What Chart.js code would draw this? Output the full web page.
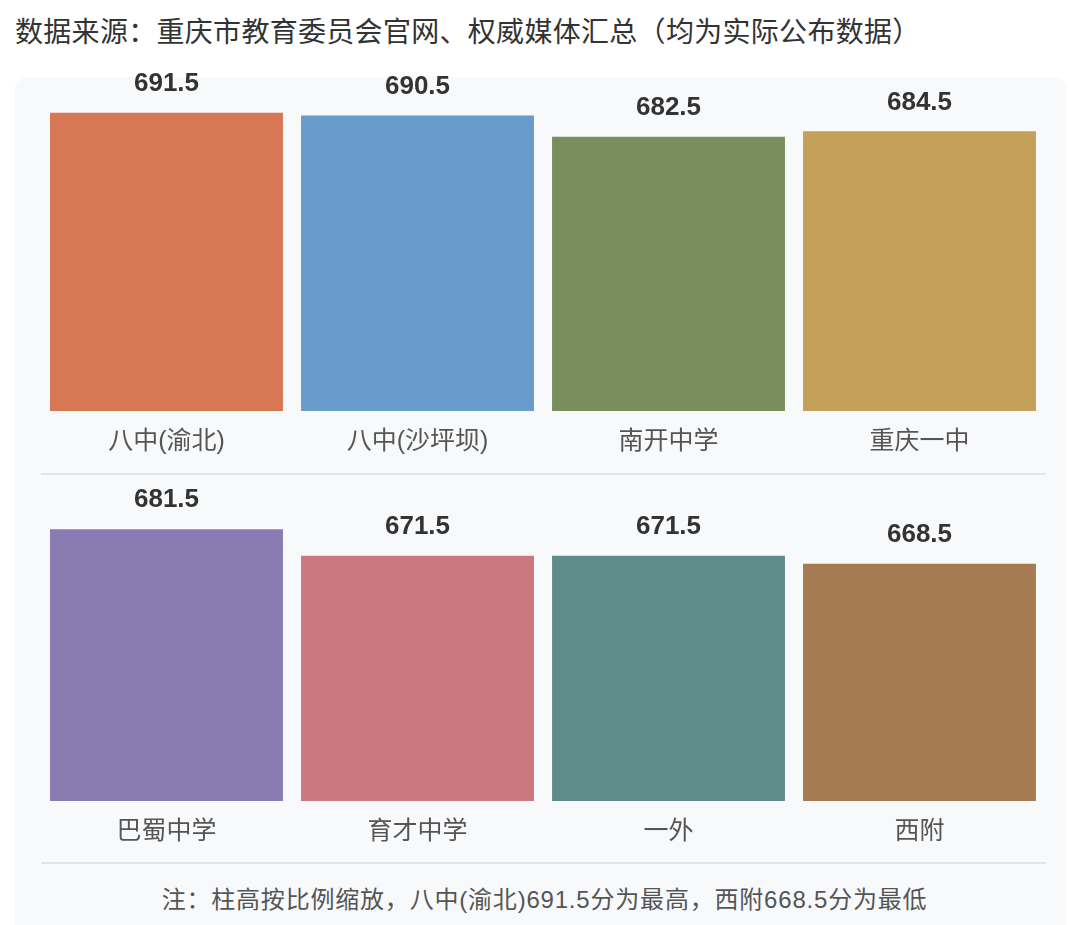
<!DOCTYPE html>
<html>
<head>
<meta charset="utf-8">
<script src="https://cdn.jsdelivr.net/npm/chart.js@4"></script>
<style>
  body { margin: 0; background: #fff; width: 1080px; height: 925px; position: relative; overflow: hidden;
         font-family: "Liberation Sans", "Noto Sans CJK SC", sans-serif; }
  .title { position: absolute; left: 15px; top: 14px; font-size: 28px; letter-spacing: 0.3px; color: #333; white-space: nowrap; line-height: 38px; }
  .panel { position: absolute; left: 15px; top: 77px; width: 1051px; height: 870px; background: #f8f9fb; border-radius: 12px; }
  canvas { position: absolute; left: 41px; }
  #row1 { top: 50px; }
  #row2 { top: 440px; }
  .sep { position: absolute; left: 41px; width: 1005px; height: 2px; background: #e1e4e8; }
  .note { position: absolute; left: 19px; width: 1051px; top: 884px; text-align: center; font-size: 24px; letter-spacing: 0.8px; color: #555; line-height: 32px; }
</style>
</head>
<body>
<div class="title">数据来源：重庆市教育委员会官网、权威媒体汇总（均为实际公布数据）</div>
<div class="panel"></div>
<canvas id="row1" width="1004" height="423"></canvas>
<canvas id="row2" width="1004" height="423"></canvas>
<div class="sep" style="top:473px"></div>
<div class="sep" style="top:862px"></div>
<div class="note">注：柱高按比例缩放，八中(渝北)691.5分为最高，西附668.5分为最低</div>
<script>
const schools1 = ["八中(渝北)", "八中(沙坪坝)", "南开中学", "重庆一中"];
const scores1 = [691.5, 690.5, 682.5, 684.5];
const schools2 = ["巴蜀中学", "育才中学", "一外", "西附"];
const scores2 = [681.5, 671.5, 671.5, 668.5];

const colors1 = ["#d87753", "#699bcb", "#798e5d", "#c4a05a"];
const colors2 = ["#8a7bb3", "#ca7981", "#5f8c8b", "#a67b51"];

// 数值标签画在柱子上方
const valueLabels = {
  id: "valueLabels",
  afterDatasetsDraw(chart) {
    const ctx = chart.ctx;
    const meta = chart.getDatasetMeta(0);
    ctx.save();
    ctx.font = "bold 26px 'Liberation Sans', sans-serif";
    ctx.fillStyle = "#333";
    ctx.textAlign = "center";
    ctx.textBaseline = "middle";
    meta.data.forEach((bar, i) => {
      ctx.fillText(chart.data.datasets[0].data[i].toFixed(1), bar.x, bar.y - 29);
    });
    ctx.restore();
  },
};

function makeChart(id, labels, values, colors) {
  return new Chart(document.getElementById(id), {
    type: "bar",
    data: {
      labels: labels,
      datasets: [
        {
          data: values,
          backgroundColor: colors,
          borderWidth: 0,
          barPercentage: 0.928,
          categoryPercentage: 1,
        },
      ],
    },
    options: {
      responsive: false,
      animation: false,
      layout: { padding: { top: 27, left: 0, right: 0, bottom: 0 } },
      plugins: {
        legend: { display: false },
        tooltip: { enabled: false },
      },
      scales: {
        y: { display: false, min: 579, max: 705 },
        x: {
          grid: { display: false, drawTicks: false },
          border: { display: false },
          ticks: {
            color: "#555",
            padding: 16,
            font: { size: 25, family: "'Liberation Sans', 'Noto Sans CJK SC', sans-serif" },
          },
        },
      },
    },
    plugins: [valueLabels],
  });
}

makeChart("row1", schools1, scores1, colors1);
makeChart("row2", schools2, scores2, colors2);
</script>
</body>
</html>
